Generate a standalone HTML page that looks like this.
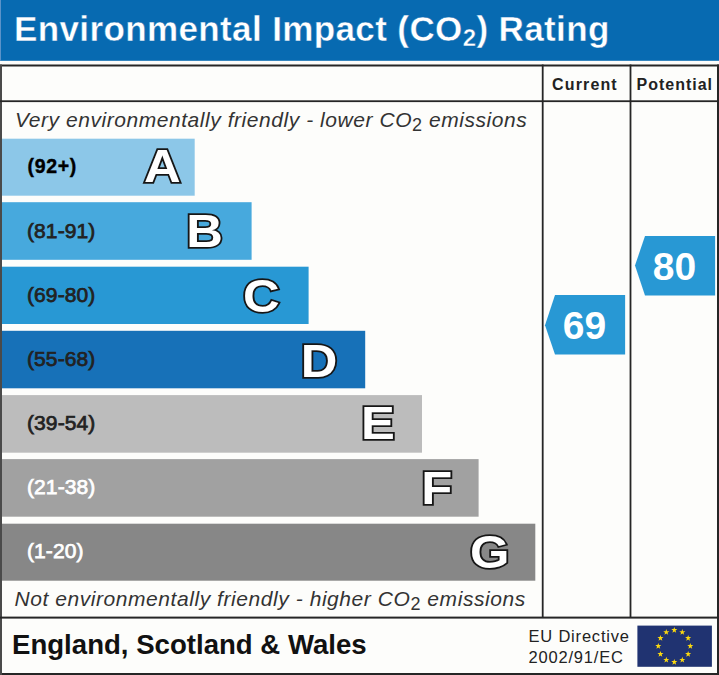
<!DOCTYPE html>
<html><head><meta charset="utf-8">
<style>
html,body{margin:0;padding:0;}
body{width:719px;height:675px;position:relative;overflow:hidden;background:#fdfdfb;font-family:"Liberation Sans",sans-serif;}
svg{position:absolute;left:0;top:0;}
text{font-family:"Liberation Sans",sans-serif;}
</style></head><body>
<svg width="719" height="675" viewBox="0 0 719 675">
<!-- header -->
<rect x="0" y="0" width="719" height="60.8" fill="#076ab1"/>
<rect x="0" y="0" width="1" height="60.8" fill="#5b93c9"/>
<text x="14" y="41.4" fill="#fff" stroke="#076ab1" stroke-width="0.4" font-weight="bold" font-size="35" letter-spacing="0.38">Environmental Impact (CO<tspan font-size="24" dy="5">2</tspan><tspan dy="-5">) Rating</tspan></text>

<!-- table lines -->
<g fill="#262626">
<rect x="0" y="64.5" width="719" height="2"/>
<rect x="0" y="673" width="719" height="2"/>
<rect x="0" y="64.5" width="2" height="610.5" fill="#4a4a4a"/>
<rect x="717" y="64.5" width="2" height="610.5"/>
<rect x="0" y="100.3" width="719" height="1.8"/>
<rect x="0" y="616.6" width="719" height="2"/>
<rect x="541.8" y="64.5" width="1.8" height="553"/>
<rect x="629.6" y="64.5" width="1.8" height="553"/>
</g>

<g font-weight="bold" font-size="16" fill="#222" letter-spacing="1.15">
<text x="552" y="90">Current</text>
<text x="636.5" y="90" letter-spacing="1.0">Potential</text>
</g>

<g font-style="italic" font-size="21" fill="#333" letter-spacing="0.55">
<text x="15" y="126.5">Very environmentally friendly - lower CO<tspan font-style="normal" font-size="18" dy="4">2</tspan><tspan dy="-4"> emissions</tspan></text>
<text x="14.5" y="606" letter-spacing="0.56">Not environmentally friendly - higher CO<tspan font-style="normal" font-size="18" dy="4">2</tspan><tspan dy="-4"> emissions</tspan></text>
</g>

<!-- bars -->
<rect x="2" y="138.7" width="192.7" height="57" fill="#8cc7e8"/>
<rect x="2" y="202.2" width="249.6" height="57.6" fill="#47a9dd"/>
<rect x="2" y="266.7" width="306.6" height="57.3" fill="#2898d4"/>
<rect x="2" y="330.8" width="363.2" height="57.5" fill="#1771b8"/>
<rect x="2" y="395.1" width="420" height="57.6" fill="#bcbcbc"/>
<rect x="2" y="459.1" width="476.6" height="57.6" fill="#a1a1a1"/>
<rect x="2" y="523.7" width="533.3" height="57" fill="#878787"/>

<g font-size="21" stroke-width="0.75" letter-spacing="0.1">
<text x="27.5" y="173.2" fill="#000" stroke="#000" stroke-width="0.4" font-weight="bold" font-size="19.5" letter-spacing="0.7">(92+)</text>
<text x="27" y="238" fill="#222" stroke="#222">(81-91)</text>
<text x="27" y="302" fill="#222" stroke="#222">(69-80)</text>
<text x="27" y="366" fill="#222" stroke="#222">(55-68)</text>
<text x="27" y="430" fill="#222" stroke="#222">(39-54)</text>
<text x="27" y="494" fill="#fff" stroke="#fff">(21-38)</text>
<text x="27" y="558" fill="#fff" stroke="#fff">(1-20)</text>
</g>

<g font-weight="bold" font-size="47" fill="#fff" stroke="#161616" stroke-width="3.5" stroke-linejoin="miter" paint-order="stroke" text-anchor="middle">
<text transform="translate(162.3 182) scale(1.08 1)">A</text>
<text transform="translate(204.6 247.3) scale(1.08 1)">B</text>
<text transform="translate(261.4 311.5) scale(1.08 1)">C</text>
<text transform="translate(319.1 376.9) scale(1.08 1)">D</text>
<text transform="translate(377.9 439) scale(1.08 1)">E</text>
<text transform="translate(436.7 504) scale(1.08 1)">F</text>
<text transform="translate(489.8 568) scale(1.08 1)">G</text>
</g>

<!-- arrows -->
<polygon points="545,325.3 555,295.1 625.1,295.1 625.1,354.6 555,354.6" fill="#2898d4"/>
<polygon points="635,265.5 645,236.1 715.1,236.1 715.1,295.6 645,295.6" fill="#2898d4"/>
<g font-weight="bold" font-size="39" fill="#fff" text-anchor="middle">
<text x="584.5" y="339">69</text>
<text x="674.4" y="280">80</text>
</g>

<!-- footer -->
<text x="12" y="654" font-weight="bold" font-size="27.6" fill="#111">England, Scotland &amp; Wales</text>
<g font-size="16.5" fill="#222" letter-spacing="0.8">
<text x="528.5" y="642">EU Directive</text>
<text x="528.5" y="663">2002/91/EC</text>
</g>
<rect x="637.4" y="625.6" width="74.5" height="41.2" fill="#203371"/>
<g fill="#fbd90f">
<polygon points="674.30,626.90 675.05,629.06 677.34,629.11 675.52,630.50 676.18,632.69 674.30,631.38 672.42,632.69 673.08,630.50 671.26,629.11 673.55,629.06"/>
<polygon points="682.30,629.04 683.05,631.21 685.34,631.25 683.52,632.64 684.18,634.83 682.30,633.52 680.42,634.83 681.08,632.64 679.26,631.25 681.55,631.21"/>
<polygon points="688.16,634.90 688.91,637.06 691.20,637.11 689.37,638.50 690.04,640.69 688.16,639.38 686.28,640.69 686.94,638.50 685.11,637.11 687.40,637.06"/>
<polygon points="690.30,642.90 691.05,645.06 693.34,645.11 691.52,646.50 692.18,648.69 690.30,647.38 688.42,648.69 689.08,646.50 687.26,645.11 689.55,645.06"/>
<polygon points="688.16,650.90 688.91,653.06 691.20,653.11 689.37,654.50 690.04,656.69 688.16,655.38 686.28,656.69 686.94,654.50 685.11,653.11 687.40,653.06"/>
<polygon points="682.30,656.76 683.05,658.92 685.34,658.97 683.52,660.35 684.18,662.55 682.30,661.24 680.42,662.55 681.08,660.35 679.26,658.97 681.55,658.92"/>
<polygon points="674.30,658.90 675.05,661.06 677.34,661.11 675.52,662.50 676.18,664.69 674.30,663.38 672.42,664.69 673.08,662.50 671.26,661.11 673.55,661.06"/>
<polygon points="666.30,656.76 667.05,658.92 669.34,658.97 667.52,660.35 668.18,662.55 666.30,661.24 664.42,662.55 665.08,660.35 663.26,658.97 665.55,658.92"/>
<polygon points="660.44,650.90 661.20,653.06 663.49,653.11 661.66,654.50 662.32,656.69 660.44,655.38 658.56,656.69 659.23,654.50 657.40,653.11 659.69,653.06"/>
<polygon points="658.30,642.90 659.05,645.06 661.34,645.11 659.52,646.50 660.18,648.69 658.30,647.38 656.42,648.69 657.08,646.50 655.26,645.11 657.55,645.06"/>
<polygon points="660.44,634.90 661.20,637.06 663.49,637.11 661.66,638.50 662.32,640.69 660.44,639.38 658.56,640.69 659.23,638.50 657.40,637.11 659.69,637.06"/>
<polygon points="666.30,629.04 667.05,631.21 669.34,631.25 667.52,632.64 668.18,634.83 666.30,633.52 664.42,634.83 665.08,632.64 663.26,631.25 665.55,631.21"/>
</g>
</svg>
</body></html>
